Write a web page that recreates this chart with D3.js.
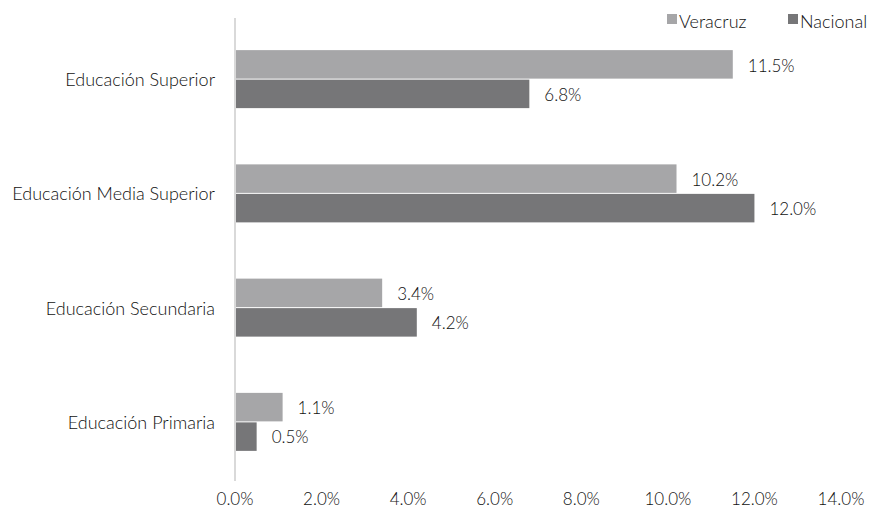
<!DOCTYPE html>
<html>
<head>
<meta charset="utf-8">
<script src="https://cdn.jsdelivr.net/npm/d3@7"></script>
<style>
body { margin: 0; background: #fff; }
text { font-family: Lato, "Open Sans", sans-serif; font-weight: 300; fill: #111; }
</style>
</head>
<body>
<div id="chart"></div>
<script>
const WIDTH = 872, HEIGHT = 513;
const categories = ["Educación Superior", "Educación Media Superior", "Educación Secundaria", "Educación Primaria"];
const seriesNames = ["Veracruz", "Nacional"];
const veracruz = [11.5, 10.2, 3.4, 1.1];
const nacional = [6.8, 12.0, 4.2, 0.5];
const xTicks = [0, 2, 4, 6, 8, 10, 12, 14];
const colors = ["#a6a6a8", "#767678"];

const svg = d3.select("#chart").append("svg")
    .attr("width", WIDTH).attr("height", HEIGHT);

const x = d3.scaleLinear().domain([0, 14]).range([235, 841]);
const y = d3.scaleBand().domain(categories).range([22, 479]);
const BAR_H = 29;
const series = [veracruz, nacional];

// bars
series.forEach((vals, s) => {
    const g = svg.append("g");
    g.selectAll("rect").data(categories).enter().append("rect")
        .attr("x", x(0))
        .attr("y", d => y(d) + y.bandwidth() / 2 - BAR_H + s * BAR_H + (s ? 0.5 : 0))
        .attr("width", (d, i) => x(vals[i]) - x(0))
        .attr("height", BAR_H - 0.5)
        .attr("fill", colors[s]);
    g.selectAll("text").data(categories).enter().append("text")
        .attr("x", (d, i) => x(vals[i]) + 15)
        .attr("y", d => y(d) + y.bandwidth() / 2 - BAR_H / 2 + s * BAR_H + 7)
        .attr("font-size", 17)
        .text((d, i) => vals[i].toFixed(1) + "%");
});

// vertical axis line
svg.append("line")
    .attr("x1", x(0)).attr("x2", x(0))
    .attr("y1", 18).attr("y2", 481)
    .attr("stroke", "#d9d9d9").attr("stroke-width", 2);

// category labels
svg.append("g").selectAll("text").data(categories).enter().append("text")
    .attr("x", 215)
    .attr("y", d => y(d) + y.bandwidth() / 2 + 7)
    .attr("text-anchor", "end")
    .attr("font-size", 18)
    .text(d => d);

// x tick labels
svg.append("g").selectAll("text").data(xTicks).enter().append("text")
    .attr("x", d => x(d))
    .attr("y", 505)
    .attr("text-anchor", "middle")
    .attr("font-size", 17)
    .text(d => d.toFixed(1) + "%");

// legend
const legendX = [667, 788];
seriesNames.forEach((name, s) => {
    svg.append("rect")
        .attr("x", legendX[s]).attr("y", 14)
        .attr("width", 10).attr("height", 10)
        .attr("fill", colors[s]);
    svg.append("text")
        .attr("x", legendX[s] + 12).attr("y", 28)
        .attr("font-size", 18)
        .text(name);
});
</script>
</body>
</html>
